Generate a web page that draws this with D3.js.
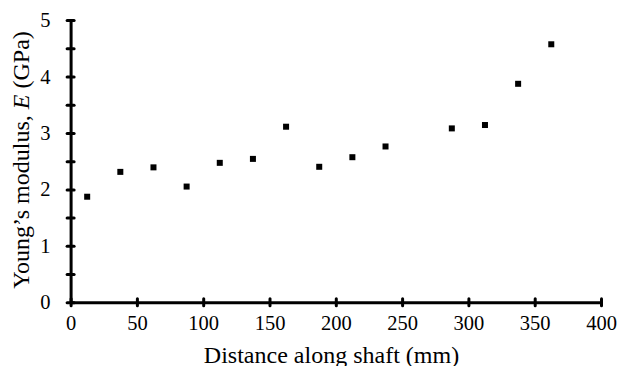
<!DOCTYPE html>
<html>
<head>
<meta charset="utf-8">
<script src="https://cdn.jsdelivr.net/npm/d3@7"></script>
<style>
  html, body { margin: 0; padding: 0; background: #fff; }
  svg { display: block; }
  svg text { font-family: "Liberation Serif", "DejaVu Serif", serif; }
</style>
</head>
<body>
<svg width="620" height="366"></svg>
<script>
// distance along shaft (mm) and Young's modulus (GPa)
const distance = [12.5, 37.5, 62.5, 87.5, 112.5, 137.5, 162.5, 187.5, 212.5, 237.5, 287.5, 312.5, 337.5, 362.5]
const modulus = [1.87, 2.31, 2.39, 2.05, 2.47, 2.54, 3.11, 2.40, 2.57, 2.76, 3.08, 3.14, 3.87, 4.57]
const xTicks = [0, 50, 100, 150, 200, 250, 300, 350, 400]
const yTicks = [0, 0.5, 1, 1.5, 2, 2.5, 3, 3.5, 4, 4.5, 5]

const plotLeft = 70.6
const plotRight = 601
const plotTop = 20
const plotBottom = 302.3

const svg = d3.select('svg')

const xScale = d3.scaleLinear().domain([0, 400]).range([plotLeft, plotRight])
const yScale = d3.scaleLinear().domain([0, 5]).range([plotBottom, plotTop])

const xAxis = d3.axisBottom(xScale)
    .tickValues(xTicks)
    .tickSize(0)
    .tickPadding(13)
    .tickFormat(d3.format('d'))

const yAxis = d3.axisLeft(yScale)
    .tickValues(yTicks)
    .tickSize(0)
    .tickPadding(20)
    .tickFormat((d) => (Number.isInteger(d) ? d : ''))

const xg = svg.append('g').attr('transform', `translate(0, ${plotBottom})`).call(xAxis)
const yg = svg.append('g').attr('transform', `translate(${plotLeft}, 0)`).call(yAxis)

const styleAxis = (g) => {
    g.attr('font-family', null)
    g.select('.domain').attr('stroke', '#000').attr('stroke-width', 3)
    g.selectAll('.tick text')
        .attr('fill', '#000')
        .attr('font-size', 20.5)
    g.selectAll('.tick line')
        .attr('stroke', '#000')
        .attr('stroke-width', 3)
        .attr('stroke-linecap', 'round')
}
xg.call(styleAxis)
yg.call(styleAxis)
xg.selectAll('.tick line').attr('y1', -3.5).attr('y2', 3.5)
yg.selectAll('.tick line').attr('x1', -3.5).attr('x2', 3.5)

// points
svg.append('g')
    .selectAll('rect')
    .data(distance.map((d, i) => ({ x: d, y: modulus[i] })))
    .join('rect')
    .attr('x', (d) => xScale(d.x) - 3)
    .attr('y', (d) => yScale(d.y) - 3)
    .attr('width', 6)
    .attr('height', 6)
    .attr('fill', '#000')

// axis titles
svg.append('text')
    .attr('x', 331.5)
    .attr('y', 363)
    .attr('text-anchor', 'middle')
    .attr('font-size', 24)
    .text('Distance along shaft (mm)')

const yTitle = svg.append('text')
    .attr('transform', `translate(29, 160) rotate(-90)`)
    .attr('text-anchor', 'middle')
    .attr('font-size', 24)
yTitle.append('tspan').text('Young\u2019s modulus, ')
yTitle.append('tspan').attr('font-style', 'italic').text('E')
yTitle.append('tspan').text(' (GPa)')
</script>
</body>
</html>
